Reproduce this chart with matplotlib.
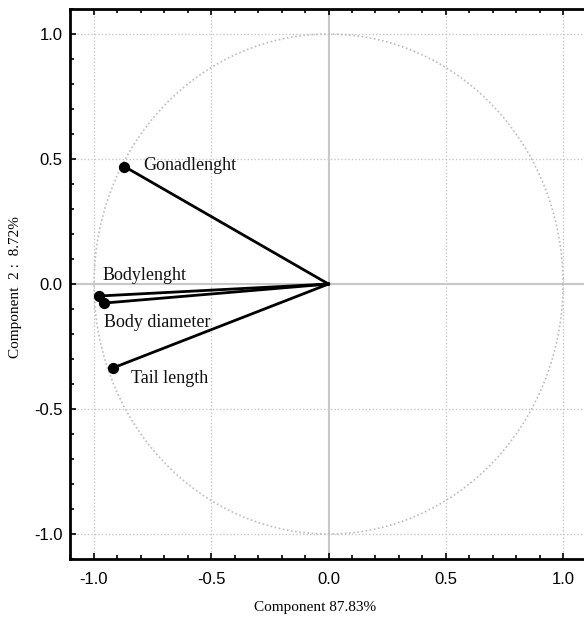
import numpy as np
import matplotlib
matplotlib.use("Agg")
import matplotlib.pyplot as plt
from matplotlib.ticker import MultipleLocator

variables = ["Gonadlenght", "Bodylenght", "Body diameter", "Tail length"]
comp1 = [-0.87, -0.98, -0.955, -0.92]
comp2 = [0.47, -0.048, -0.076, -0.336]
label_x = [-0.79, -0.965, -0.955, -0.84]
label_y = [0.476, 0.036, -0.152, -0.376]
xticks = [-1.0, -0.5, 0.0, 0.5, 1.0]
yticks = [-1.0, -0.5, 0.0, 0.5, 1.0]

fig = plt.figure(figsize=(5.84, 6.19), dpi=100)
ax = fig.add_axes([0.1207, 0.0969, 0.8836, 0.8885])
ax.set_xlim(-1.1, 1.1)
ax.set_ylim(-1.1, 1.1)

# grid
for v in [-1.0, -0.5, 0.5, 1.0]:
    ax.axvline(v, color="#c8c8c8", lw=1, ls=(0, (1, 1.5)), zorder=0)
    ax.axhline(v, color="#c8c8c8", lw=1, ls=(0, (1, 1.5)), zorder=0)
ax.axvline(0, color="#c8c8c8", lw=1.5, zorder=0)
ax.axhline(0, color="#c8c8c8", lw=1.5, zorder=0)

# unit circle
t = np.linspace(0, 2 * np.pi, 400)
ax.plot(np.cos(t), np.sin(t), color="#bdbdbd", lw=1.2, ls=(0, (1, 1.5)), zorder=1)

# vectors
for x, y in zip(comp1, comp2):
    ax.plot([0, x], [0, y], color="black", lw=2, zorder=3)
ax.scatter(comp1, comp2, s=50, marker="o", color="black", zorder=4)

for name, lx, ly in zip(variables, label_x, label_y):
    ax.text(lx, ly, name, fontsize=13, family="Liberation Serif",
            ha="left", va="center", color="#111111")

ax.set_xticks(xticks)
ax.set_yticks(yticks)
ax.set_xticklabels([f"{v:.1f}" for v in xticks], family="Liberation Sans", fontsize=12)
ax.set_yticklabels([f"{v:.1f}" for v in yticks], family="Liberation Sans", fontsize=12)
ax.xaxis.set_minor_locator(MultipleLocator(0.1))
ax.yaxis.set_minor_locator(MultipleLocator(0.1))
ax.tick_params(which="both", direction="in", top=True, right=False, width=1.2)
ax.tick_params(which="major", length=4)
ax.tick_params(which="minor", length=3)
ax.tick_params(axis="x", which="major", pad=9)
ax.tick_params(axis="y", which="major", pad=5.5)

for s in ["left", "bottom", "top"]:
    ax.spines[s].set_linewidth(2)
ax.spines["right"].set_visible(False)

fig.text(315 / 584, 1 - 608 / 619, "Component 87.83%", family="Liberation Serif",
         fontsize=11, ha="center", va="center")
fig.text(16 / 584, 1 - 287 / 619, "Component  2 :  8.72%", family="Liberation Serif",
         fontsize=11, ha="center", va="center", rotation=90)

fig.savefig("out.png", dpi=100)
